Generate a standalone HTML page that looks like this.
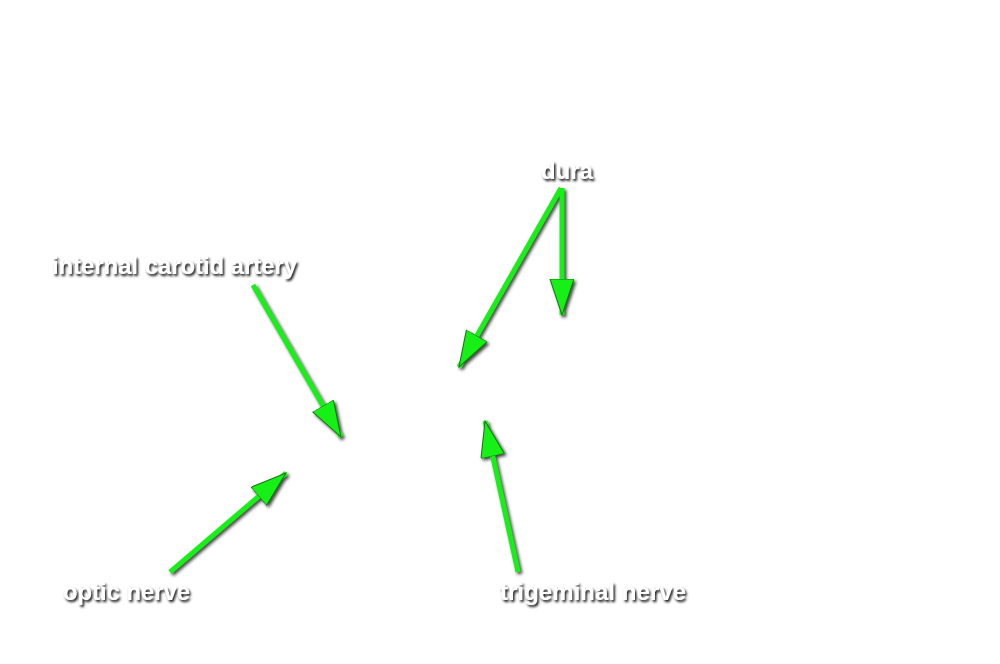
<!DOCTYPE html>
<html><head><style>
html,body{margin:0;padding:0;background:#fff;width:1000px;height:664px;overflow:hidden}
</style></head><body>
<svg width="1000" height="664" viewBox="0 0 1000 664" xmlns="http://www.w3.org/2000/svg">
<defs>
<filter id="sh" x="-20%" y="-20%" width="140%" height="140%">
<feDropShadow dx="2" dy="2" stdDeviation="1.5" flood-color="#000" flood-opacity="0.75"/>
</filter>
<filter id="tsh" x="-20%" y="-40%" width="140%" height="180%">
<feDropShadow dx="1.5" dy="2" stdDeviation="1.2" flood-color="#000" flood-opacity="0.95"/>
</filter>
<marker id="ah" markerUnits="userSpaceOnUse" markerWidth="40" markerHeight="30" refX="36" refY="12" orient="auto">
<polygon points="0,0 36,12 0,24" fill="#16f016" stroke="#117711" stroke-width="1"/>
</marker>
</defs>
<g filter="url(#sh)" stroke="#16f016" stroke-width="5" fill="none" marker-end="url(#ah)">
<line x1="253" y1="285" x2="341" y2="437"/>
<line x1="170" y1="572" x2="286" y2="473"/>
<line x1="561" y1="188" x2="459" y2="367"/>
<line x1="562" y1="188" x2="562" y2="315"/>
<line x1="518" y1="572" x2="485" y2="421"/>
</g>
<g filter="url(#tsh)" fill="#fff" font-family="Liberation Sans, Arial, sans-serif" font-weight="bold" font-size="24">
<text x="541" y="179" textLength="52" lengthAdjust="spacingAndGlyphs">dura</text>
<text x="52" y="274" textLength="245" lengthAdjust="spacingAndGlyphs">internal carotid artery</text>
<text x="63" y="600" textLength="127" lengthAdjust="spacingAndGlyphs">optic nerve</text>
<text x="500" y="600" textLength="186" lengthAdjust="spacingAndGlyphs">trigeminal nerve</text>
</g>
</svg>
</body></html>
